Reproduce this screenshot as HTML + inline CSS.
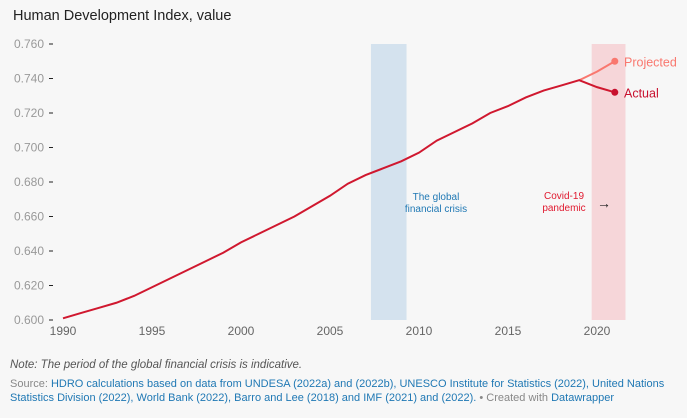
<!DOCTYPE html>
<html><head><meta charset="utf-8"><style>
html,body{margin:0;padding:0;background:#f7f7f7;}
body{width:687px;height:418px;overflow:hidden;font-family:"Liberation Sans",sans-serif;position:relative;}
.t{position:absolute;left:13px;top:8px;font-size:14.5px;color:#222;}
.note{position:absolute;left:10px;top:359px;font-size:11.5px;font-style:italic;color:#555;}
.src{position:absolute;left:10px;top:377px;width:670px;font-size:11px;line-height:14px;color:#888;}
.src a{color:#1f78b4;text-decoration:none;}
</style></head><body>
<div class="t">Human Development Index, value</div>
<svg id="c" width="687" height="418" style="position:absolute;left:0;top:0"></svg>
<div class="note">Note: The period of the global financial crisis is indicative.</div>
<div class="src">Source: <a>HDRO calculations based on data from UNDESA (2022a) and (2022b), UNESCO Institute for Statistics (2022), United Nations Statistics Division (2022), World Bank (2022), Barro and Lee (2018) and IMF (2021) and (2022).</a> • Created with <a>Datawrapper</a></div>
<script>
const years=[1990,1991,1992,1993,1994,1995,1996,1997,1998,1999,2000,2001,2002,2003,2004,2005,2006,2007,2008,2009,2010,2011,2012,2013,2014,2015,2016,2017,2018,2019,2020,2021];
const actual=[0.601,0.604,0.607,0.610,0.614,0.619,0.624,0.629,0.634,0.639,0.645,0.650,0.655,0.660,0.666,0.672,0.679,0.684,0.688,0.692,0.697,0.704,0.709,0.714,0.720,0.724,0.729,0.733,0.736,0.739,0.735,0.732];
const projYears=[2019,2020,2021];
const projected=[0.739,0.744,0.750];
const yTicks=[0.600,0.620,0.640,0.660,0.680,0.700,0.720,0.740,0.760];
const xTicks=[1990,1995,2000,2005,2010,2015,2020];
const bands=[[2007.3,2009.3,"#d4e2ee"],[2019.7,2021.6,"#f6d6d9"]];
const svg=document.getElementById('c');const NS='http://www.w3.org/2000/svg';
const X=v=>63+(v-1990)*(534/30);
const Y=v=>320-(v-0.6)*(276/0.16);
function mk(t,a,p){const e=document.createElementNS(NS,t);for(const k in a)e.setAttribute(k,a[k]);(p||svg).appendChild(e);return e;}
bands.forEach((b,i)=>{const r=mk('rect',{x:X(b[0]),y:44,width:X(b[1])-X(b[0]),height:276,fill:b[2]});

});
yTicks.forEach(v=>{const l=mk('line',{x1:49,x2:53,y1:Y(v),y2:Y(v),stroke:'#222','stroke-width':1});


const t=mk('text',{x:44,y:Y(v)+4,'text-anchor':'end','font-size':12,fill:'#999'});t.textContent=v.toFixed(3);

});
xTicks.forEach(v=>{const t=mk('text',{x:X(v),y:335,'text-anchor':'middle','font-size':12,fill:'#666'});t.textContent=v;

});
const pp=mk('polyline',{points:projYears.map((y,i)=>X(y)+','+Y(projected[i])).join(' '),fill:'none',stroke:'#f9786f','stroke-width':2});


const ap=mk('polyline',{points:years.map((y,i)=>X(y)+','+Y(actual[i])).join(' '),fill:'none',stroke:'#d0182f','stroke-width':2});


const pd=mk('circle',{cx:X(projYears[2]),cy:Y(projected[2]),r:3.5,fill:'#f9786f'});


const ad=mk('circle',{cx:X(years[years.length-1]),cy:Y(actual[actual.length-1]),r:3.5,fill:'#c8102e'});


const lp=mk('text',{x:624,y:Y(projected[2])+5,'font-size':12.5,fill:'#f9786f'});lp.textContent='Projected';


const la=mk('text',{x:624,y:Y(actual[actual.length-1])+5,'font-size':12.5,fill:'#c8102e'});la.textContent='Actual';


const g1=mk('text',{x:436,y:200,'text-anchor':'middle','font-size':10,fill:'#1f78b4'});


mk('tspan',{x:436},g1).textContent='The global';mk('tspan',{x:436,dy:12},g1).textContent='financial crisis';
const g2=mk('text',{x:564,y:199,'text-anchor':'middle','font-size':10,fill:'#e0192f'});


mk('tspan',{x:564},g2).textContent='Covid-19';mk('tspan',{x:564,dy:12},g2).textContent='pandemic';
const ar=mk('text',{x:604,y:208,'text-anchor':'middle','font-size':14,fill:'#222'});ar.textContent='→';


</script>
</body></html>
